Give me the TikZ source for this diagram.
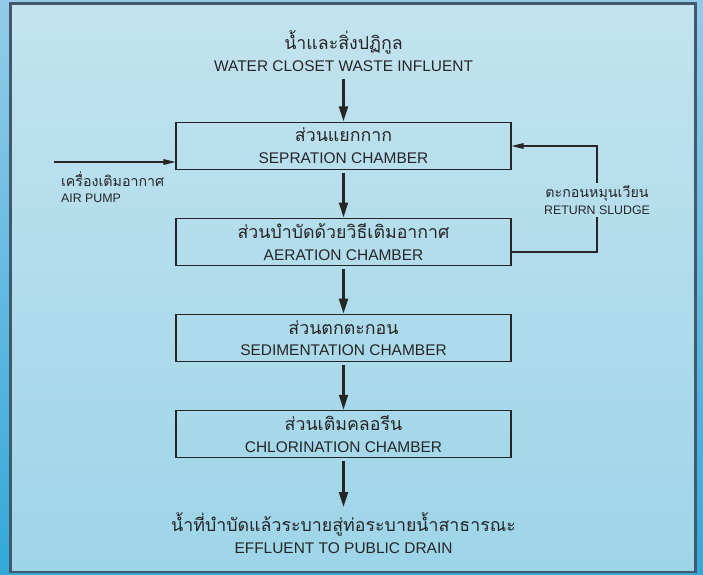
\documentclass[tikz,border=0pt]{standalone}
\usepackage{fontspec}
\setmainfont{Liberation Sans}
\newfontfamily\thaifont[Script=Thai,Scale=1.15]{Loma}
\usetikzlibrary{positioning,arrows.meta}
\definecolor{inkgray}{HTML}{262626}
\definecolor{framegray}{HTML}{41596A}
\definecolor{paneltop}{HTML}{C3E3EF}
\definecolor{panelbottom}{HTML}{9DD5E8}
\definecolor{outertop}{HTML}{93CBE9}
\definecolor{outerbottom}{HTML}{33A8D9}
\newcommand{\thai}[1]{{\thaifont #1}}
\tikzset{
  chamber/.style={draw=inkgray, line width=0.8pt, minimum width=8.375cm, minimum height=1.175cm,
    align=center, text=inkgray, font=\fontsize{11}{15.5}\selectfont},
  caption/.style={align=center, text=inkgray, font=\fontsize{11}{15.5}\selectfont},
  note/.style={align=center, text=inkgray, inner sep=2pt, font=\fontsize{8.8}{11.5}\selectfont},
  flow/.style={draw=inkgray, line width=2.3pt, shorten <=2pt, -{Triangle[length=11pt,width=6pt]}},
  feed/.style={draw=inkgray, line width=0.8pt, -{Triangle[length=8.5pt,width=4pt]}}
}
\begin{document}
\begin{tikzpicture}[node distance=1.2cm]
    \useasboundingbox (0,0) rectangle (17.575,14.375);
    \shade[top color=outertop, bottom color=outerbottom] (0,0) rectangle (17.575,14.375);% outer background
    \shade[top color=paneltop, bottom color=panelbottom] (0.2625,0.075) rectangle (17.3875,14.2875);% panel
    \draw[framegray, line width=2.1pt] (0.2625,0.075) rectangle (17.3875,14.2875);% panel frame
    % chambers
    \node[chamber] (sep) at (8.5875,10.725) {\thai{ส่วนแยกกาก}\\SEPRATION CHAMBER};
    \node[chamber, below=of sep] (aer) {\thai{ส่วนบำบัดด้วยวิธีเติมอากาศ}\\AERATION CHAMBER};
    \node[chamber, below=of aer] (sed) {\thai{ส่วนตกตะกอน}\\SEDIMENTATION CHAMBER};
    \node[chamber, below=of sed] (chl) {\thai{ส่วนเติมคลอรีน}\\CHLORINATION CHAMBER};
    % in and out
    \node[caption] (influent) at (8.5875,13.1) {\thai{น้ำและสิ่งปฏิกูล}\\WATER CLOSET WASTE INFLUENT};
    \node[caption] (effluent) at (8.5875,1.05) {\thai{น้ำที่บำบัดแล้วระบายสู่ท่อระบายน้ำสาธารณะ}\\EFFLUENT TO PUBLIC DRAIN};
    \draw[flow] (influent) -- (sep);
    \draw[flow] (sep) -- (aer);
    \draw[flow] (aer) -- (sed);
    \draw[flow] (sed) -- (chl);
    \draw[flow] (chl) -- (effluent);
    % air pump
    \coordinate (air) at (1.35,10.325);
    \draw[feed] (air) -- (air -| sep.west);% draw the air line
    \node[note, align=left, anchor=north west] (pump) at (1.45,10.15) {\thai{เครื่องเติมอากาศ}\\AIR PUMP};
    % return sludge
    \coordinate (ret) at (14.925,8.075);
    \node[note] (sludge) at (14.925,9.375) {\thai{ตะกอนหมุนเวียน}\\RETURN SLUDGE};
    \draw[draw=inkgray, line width=0.8pt] (aer.east |- ret) -- (ret) -- (sludge);% draw the return line
    \draw[feed] (sludge) -- (sludge |- sep.east) -- (sep.east);% back into the box
\end{tikzpicture}
\end{document}
